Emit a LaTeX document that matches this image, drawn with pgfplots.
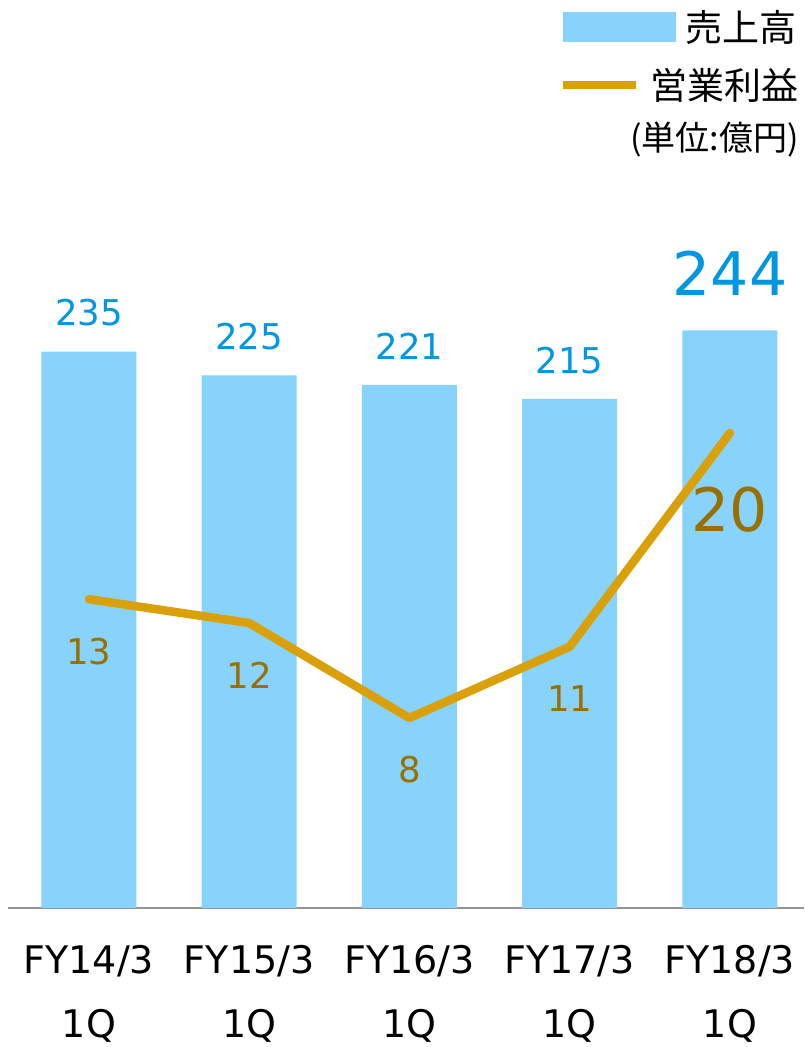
\documentclass[border=0pt]{standalone}
\usepackage{pgfplots}
\pgfplotsset{compat=1.18}
\usepackage{fontspec}
\setmainfont{DejaVu Sans}
\newfontfamily\jp{Noto Sans CJK JP}
\definecolor{barblue}{HTML}{87D3FC}
\definecolor{lblblue}{HTML}{0096E0}
\definecolor{gold}{HTML}{DAA00A}
\definecolor{lblgold}{HTML}{997000}
\begin{document}
\begin{tikzpicture}
\path[use as bounding box] (0,0) rectangle (804pt,1047pt);
\begin{axis}[
  at={(8pt,139pt)}, anchor=south west,
  scale only axis, width=796pt, height=728pt,
  xmin=-0.505, xmax=4.462, ymin=0, ymax=307.5,
  axis x line=bottom, axis y line=none,
  x axis line style={-, draw=black!42, line width=2pt},
  xtick={0,1,2,3,4},
  xticklabels={{FY14/3\\1Q},{FY15/3\\1Q},{FY16/3\\1Q},{FY17/3\\1Q},{FY18/3\\1Q}},
  major tick length=0pt,
  xticklabel style={align=center, font=\fontsize{38}{64}\selectfont, yshift=-34pt},
  clip=false,
]
\addplot[ybar, fill=barblue, draw=none, bar width=0.593] coordinates {(0,235)(1,225)(2,221)(3,215)(4,244)};
\addplot[draw=none, mark=none, point meta=explicit symbolic, nodes near coords,
  every node near coord/.append style={anchor=south, inner sep=0pt, yshift=25pt, text=lblblue, font=\fontsize{35.5}{40}\selectfont}]
  coordinates {(0,235)[235] (1,225)[225] (2,221)[221] (3,215)[215]};
\addplot[draw=none, mark=none, point meta=explicit symbolic, nodes near coords,
  every node near coord/.append style={anchor=south, inner sep=0pt, yshift=35pt, text=lblblue, font=\fontsize{60}{64}\selectfont}]
  coordinates {(4,244)[244]};
\end{axis}
\begin{axis}[
  at={(8pt,139pt)}, anchor=south west,
  scale only axis, width=796pt, height=728pt,
  xmin=-0.505, xmax=4.462, ymin=0, ymax=30.65,
  hide axis, clip=false,
]
\addplot[gold, line width=8.5pt, line cap=round, line join=round, mark=none]
  coordinates {(0,13)(1,12)(2,8)(3,11)(4,20)};
\addplot[draw=none, mark=none, point meta=explicit symbolic, nodes near coords,
  every node near coord/.append style={anchor=center, inner sep=0pt, yshift=-52pt, text=lblgold, font=\fontsize{35.5}{40}\selectfont}]
  coordinates {(0,13)[13] (1,12)[12] (2,8)[8] (3,11)[11]};
\addplot[draw=none, mark=none, point meta=explicit symbolic, nodes near coords,
  every node near coord/.append style={anchor=center, inner sep=0pt, yshift=-77pt, text=lblgold, font=\fontsize{60}{64}\selectfont}]
  coordinates {(4,20)[20]};
\end{axis}
% legend
\fill[barblue] (563pt,1005pt) rectangle (676pt,1035pt);
\node[anchor=east, inner sep=0pt, font=\jp\fontsize{37}{40}\selectfont] at (797pt,1020pt) {売上高};
\draw[gold, line width=8pt] (563pt,962pt) -- (636pt,962pt);
\node[anchor=east, inner sep=0pt, font=\jp\fontsize{37}{40}\selectfont] at (799pt,962pt) {営業利益};
\node[anchor=east, inner sep=0pt, font=\jp\fontsize{34}{38}\selectfont] at (799pt,907pt) {(単位:億円)};
\end{tikzpicture}
\end{document}
